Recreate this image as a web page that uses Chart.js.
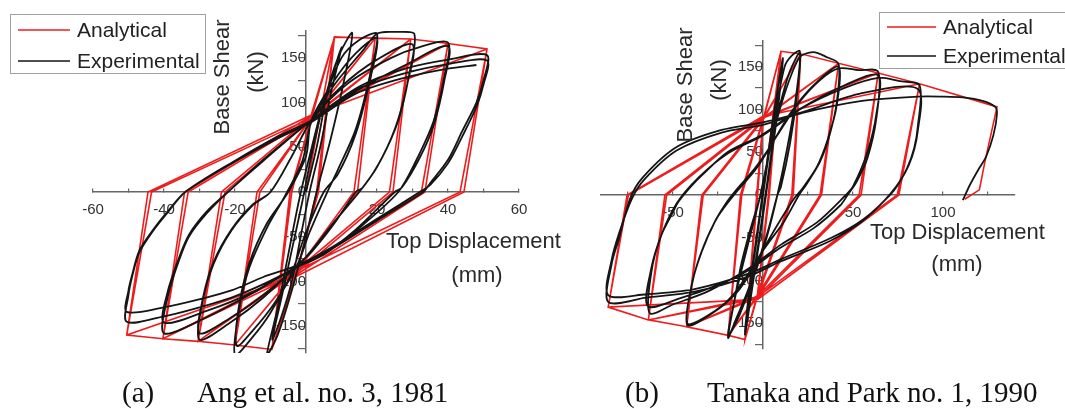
<!DOCTYPE html>
<html>
<head>
<meta charset="utf-8">
<script src="https://cdn.jsdelivr.net/npm/chart.js@4.4.0/dist/chart.umd.min.js"></script>
<style>
  html, body { margin: 0; padding: 0; background: #fff; }
  #wrap { position: relative; width: 1065px; height: 409px; overflow: hidden; }
  #wrap canvas { position: absolute; left: 0; top: 0; }
  .cap { position: absolute; top: 378px; font-family: "Liberation Serif", "Times New Roman", serif;
         font-size: 29px; line-height: 29px; color: #111; white-space: nowrap; }
</style>
</head>
<body>
<div id="wrap">
  <canvas id="chartA" width="1065" height="409"></canvas>
  <canvas id="chartB" width="1065" height="409"></canvas>
  <div class="cap" style="left:122px">(a)</div>
  <div class="cap" style="left:197px">Ang et al. no. 3, 1981</div>
  <div class="cap" style="left:625px">(b)</div>
  <div class="cap" style="left:707px">Tanaka and Park no. 1, 1990</div>
</div>
<script>
// ticks
const xTicksA = [-60, -50, -40, -30, -20, -10, 0, 10, 20, 30, 40, 50, 60];
const xLabelsA = [-60, -40, -20, 20, 40, 60];
const xTicksB = [-75, -50, -25, 0, 25, 50, 75, 100, 125];
const xLabelsB = [-50, 50, 100];
const yTicks = [-175, -150, -125, -100, -75, -50, -25, 0, 25, 50, 75, 100, 125, 150, 175];
const yLabels = [-150, -100, -50, 0, 50, 100, 150];

// (a) Ang et al. no. 3 -- displacement (mm), base shear (kN)
const analyticalA = [
  [0, 0], [8, 173],
  [3, 0], [-2, -82], [-9.6, -176], [-4, 0], [1, 78], [8, 173],
  [3.5, 0], [-2.5, -86], [-9.6, -176], [-4.5, 0], [1.5, 82], [8, 173], [19.5, 172],
  [13.5, 0], [-2, -84], [-9.6, -176], [-20, -171], [-13, 0], [1, 80], [8, 173], [19.5, 172],
  [14.5, 0], [-2.5, -88], [-20, -171], [-13.8, 0], [1.5, 83], [19.5, 172], [29.5, 171],
  [23.5, 0], [-2, -85], [-20, -171], [-30.4, -167], [-22.8, 0], [1, 80], [19.5, 172], [29.5, 171],
  [24.5, 0], [-2.5, -90], [-30.4, -167], [-23.8, 0], [1.5, 84], [29.5, 171], [40, 166],
  [32.5, 0], [-2, -86], [-30.4, -167], [-40.3, -164], [-33.2, 0], [1, 81], [29.5, 171], [40, 166],
  [33.5, 0], [-2.5, -92], [-40.3, -164], [-34.2, 0], [1.5, 85], [40, 166], [51, 160],
  [43.4, 0], [-2, -87], [-40.3, -164], [-50.5, -160], [-43.5, 0], [1, 82], [40, 166], [51, 160],
  [44.5, 0], [-2.5, -94], [-50.5, -160], [-44.5, 0], [1.5, 86], [51, 160]
];
const experimentalA = [
  [0, 0], [3, 50], [6, 110], [10, 162],
  [7, 110], [4, 50], [1, 0], [-1.5, -50], [-4, -100], [-7, -140], [-9.5, -165],
  [-7, -120], [-4, -65], [-1, -10], [1.5, 40], [5, 100], [9, 150], [13, 178],
  [11, 130], [7, 60], [3, 0], [0, -50], [-4, -110], [-8, -160], [-11, -182],
  [-8, -130], [-5, -70], [-2, -10], [1, 40], [5, 100], [10, 150], [15, 170], [20, 177],
  [18, 130], [14, 70], [9, 25], [6, 0], [1, -45], [-2.5, -82], [-9, -125], [-15, -155], [-19.5, -172],
  [-19, -130], [-16, -80], [-11, -35], [-5, 0], [0, 40], [1.5, 80], [8, 125], [14, 155], [20, 172],
  [18, 125], [14, 65], [9, 20], [5, 0], [0, -45], [-4, -90], [-10, -135], [-15, -162], [-20, -182],
  [-19, -135], [-16, -85], [-11, -40], [-6, -5], [-1, 35], [1.5, 78], [8, 120], [16, 158], [20, 177], [25, 179], [30.5, 177],
  [29, 130], [26, 80], [21, 35], [16, 5], [14, 0], [8, -35], [2, -65], [-2.5, -82], [-12, -118], [-21, -145], [-30, -165],
  [-29, -120], [-26, -80], [-21, -43], [-15, -15], [-10, 0], [-4, 40], [1.5, 80], [10, 118], [20, 148], [30, 165],
  [28.5, 120], [25, 70], [20, 28], [15, 0], [7, -38], [1, -68], [-2.5, -83], [-12, -115], [-21, -140], [-30, -158],
  [-29, -118], [-26, -78], [-21, -42], [-15, -14], [-10, 0], [-4, 40], [1.5, 80], [12, 122], [24, 150], [32, 162], [40, 167],
  [39, 130], [36, 80], [31, 35], [26, 0], [15, -40], [5, -70], [-2.5, -83], [-15, -113], [-28, -140], [-40, -158],
  [-39, -118], [-36, -79], [-33, -50], [-28, -24], [-22, 0], [-12, 35], [1.5, 80], [15, 115], [28, 142], [40, 163],
  [39, 125], [36, 75], [32, 38], [27, 5], [25, 0], [14, -42], [4, -72], [-2.5, -84], [-15, -112], [-28, -133], [-40, -146],
  [-39, -112], [-36, -76], [-33, -48], [-28, -22], [-22, 0], [-12, 36], [1.5, 80], [15, 118], [28, 138], [40, 148], [51, 153],
  [50, 125], [48, 100], [44, 68], [40, 36], [35, 10], [33, 0], [20, -32], [8, -62], [-2.5, -84], [-12, -103], [-21, -118], [-31, -130], [-40, -139], [-50.5, -145],
  [-50, -115], [-49, -95], [-47, -68], [-43, -43], [-39, -23], [-34, 0], [-20, 35], [-8, 62], [1.5, 80], [14, 114], [28, 133], [40, 143], [51, 147],
  [50, 120], [48, 95], [44, 62], [40, 32], [35, 8], [32, 0], [20, -30], [8, -60], [-2.5, -82], [-12, -95], [-21, -110], [-31, -121], [-40, -129], [-50.5, -134],
  [-50, -110], [-49, -93], [-47, -66], [-43, -42], [-39, -22], [-34, 0], [-20, 34], [-8, 60], [1.5, 78], [14, 110], [28, 128], [40, 138], [48, 142]
];

// (b) Tanaka and Park no. 1
const analyticalB = [
  [0, 0], [10, 168],
  [3, 0], [-3, -115], [-10, -169], [-3, 0], [0, 86], [10, 168],
  [3.5, 0], [-3, -118], [-10, -169], [-3.5, 0], [0, 88], [10, 168], [21, 165],
  [16, 0], [-3, -116], [-10, -169], [-19.4, -164], [-11.8, 0], [0, 87], [10, 168], [21, 165],
  [16.8, 0], [-3, -119], [-19.4, -164], [-12.5, 0], [0, 89], [21, 165], [42, 154],
  [31.7, 0], [-3, -117], [-19.4, -164], [-42.4, -154], [-33.2, 0], [0, 88], [21, 165], [42, 154],
  [32.5, 0], [-3, -120], [-42.4, -154], [-34, 0], [0, 90], [42, 154], [64, 142.5],
  [53.4, 0], [-3, -118], [-42.4, -154], [-63.7, -146], [-53.5, 0], [0, 89], [42, 154], [64, 142.5],
  [54.5, 0], [-3, -121], [-63.7, -146], [-54.5, 0], [0, 91], [64, 142.5], [87, 130],
  [74.6, 0], [-3, -119], [-63.7, -146], [-86, -131], [-74.8, 0], [0, 90], [64, 142.5], [87, 130],
  [75.5, 0], [-3, -122], [-86, -131], [-75.5, 0], [0, 92], [87, 130], [130, 103],
  [123.3, 39], [120.2, 6], [112, -5]
];
const experimentalB = [
  [0, 0], [5, 80], [11, 158],
  [8, 100], [4, 40], [0, -20], [-5, -90], [-10, -160],
  [-7, -100], [-3, -40], [1, 20], [5, 80], [11, 160],
  [8, 95], [4, 35], [0, -25], [-5, -95], [-10, -163],
  [-7, -105], [-3, -45], [1, 15], [6, 85], [12, 150], [16, 163], [20.5, 168],
  [19, 120], [15, 60], [10, 10], [8, 0], [3, -40], [-3, -80], [-9, -115], [-15, -145], [-19.4, -167],
  [-16, -125], [-12, -80], [-7, -40], [-2, -5], [1, 20], [5, 70], [10, 110], [15, 145], [20.5, 166],
  [18, 110], [13, 50], [8, 0], [2, -50], [-5, -95], [-13, -140], [-19.4, -165],
  [-15, -115], [-8, -55], [-2, -5], [3, 45], [10, 105], [20, 160], [27.8, 167], [35.6, 161], [42, 153],
  [41, 109], [37, 70], [31.7, 39], [24, 12], [20, 0], [12, -30], [0, -65], [-6, -88], [-15, -115], [-28, -138], [-42, -152],
  [-39.6, -105], [-34, -66], [-26.7, -31], [-20, -8], [-15.6, 4], [-4.4, 31.5], [5, 60], [15, 95], [28, 128], [42, 150],
  [41, 105], [36, 65], [30, 33], [22, 8], [17, -5], [8, -35], [-6, -85], [-18, -120], [-30, -140], [-42, -150],
  [-39, -100], [-33, -60], [-25, -25], [-15, 3], [-4, 30], [8, 70], [20, 108], [32, 135], [42, 148], [53, 146], [64, 144],
  [63, 90], [58, 43], [52, 15.5], [47, 0], [43, -12], [28, -39], [9.4, -62], [-8, -88], [-25, -105], [-45, -120], [-64, -130],
  [-62, -85], [-56.5, -47], [-50, -20], [-47, -8], [-40, 10], [-34, 23], [-19.4, 50.6], [-0.7, 70], [20, 100], [45, 128], [64, 140],
  [63, 95], [58, 50], [50, 10], [46, 0], [30, -32], [10, -58], [-8, -86], [-30, -112], [-50, -128], [-63, -138],
  [-62, -90], [-57, -50], [-48, -10], [-36, 20], [-20, 48], [0, 70], [22, 102], [45, 125], [64, 137], [76, 133], [87, 128],
  [86, 80], [84, 55], [80, 31], [75, 12], [70.5, 0], [55, -31], [37, -54], [9.4, -78], [-8, -95], [-38, -113], [-65, -120], [-86, -125],
  [-84, -80], [-80, -51], [-74, -5], [-67, 20], [-48, 56], [-23, 76], [0, 85], [22, 97], [55, 119], [86, 124],
  [86, 75], [81, 35], [71, 2], [56, -28], [38, -50], [10, -75], [-8, -92], [-38, -110], [-65, -116], [-86, -117],
  [-84, -75], [-80, -45], [-73, -5], [-66, 18], [-48, 52], [-23, 73], [0, 82], [22, 96], [55, 110], [86, 115],
  [100, 115], [111, 114], [122, 110], [129, 103], [130, 95], [128, 70], [124, 45], [120, 31], [115, 12], [111, -6]
];

const RED = '#ee1c1c';
const BLACK = '#151515';
const SANS = '"Liberation Sans", Arial, sans-serif';

const toXY = arr => arr.map(p => ({ x: p[0], y: p[1] }));

// legend box, axis titles
const figureText = {
  id: 'figureText',
  afterDraw(chart, args, o) {
    const ctx = chart.ctx;
    ctx.save();
    const L = o.legend;
    ctx.strokeStyle = '#a0a0a0';
    ctx.lineWidth = 1;
    ctx.strokeRect(L.x + 0.5, L.y + 0.5, L.w, L.h);
    ctx.lineWidth = 1.6;
    ctx.strokeStyle = RED;
    ctx.beginPath(); ctx.moveTo(L.lx1, L.ry); ctx.lineTo(L.lx2, L.ry); ctx.stroke();
    ctx.strokeStyle = BLACK;
    ctx.beginPath(); ctx.moveTo(L.lx1, L.by); ctx.lineTo(L.lx2, L.by); ctx.stroke();
    ctx.fillStyle = '#222';
    ctx.font = '21px ' + SANS;
    ctx.textAlign = 'left';
    ctx.textBaseline = 'middle';
    ctx.fillText('Analytical', L.tx, L.ry + 1);
    ctx.fillText('Experimental', L.tx, L.by + 1);

    ctx.font = '22px ' + SANS;
    ctx.fillStyle = '#2a2a2a';
    ctx.textAlign = 'center';
    for (const t of o.yTitle) {
      ctx.save();
      ctx.translate(t.x, t.y);
      ctx.rotate(-Math.PI / 2);
      ctx.fillText(t.text, 0, 0);
      ctx.restore();
    }
    ctx.textAlign = 'left';
    ctx.fillText('Top Displacement', o.xTitle.x, o.xTitle.y);
    ctx.textAlign = 'center';
    ctx.fillText('(mm)', o.xUnit.x, o.xUnit.y);
    ctx.restore();
  }
};

function makeChart(id, analytical, experimental, xMin, xMax, xTicks, xLabels, pad, text) {
  return new Chart(document.getElementById(id).getContext('2d'), {
    type: 'scatter',
    data: {
      datasets: [
        {
          label: 'Analytical',
          data: toXY(analytical),
          showLine: true,
          borderColor: RED,
          borderWidth: 1.6,
          pointRadius: 0,
          tension: 0,
          order: 2
        },
        {
          label: 'Experimental',
          data: toXY(experimental),
          showLine: true,
          borderColor: BLACK,
          borderWidth: 1.8,
          pointRadius: 0,
          tension: 0.3,
          order: 1
        }
      ]
    },
    options: {
      responsive: false,
      animation: false,
      layout: { padding: pad },
      scales: {
        x: {
          type: 'linear',
          min: xMin,
          max: xMax,
          position: { y: 0 },
          afterBuildTicks: s => { s.ticks = xTicks.map(v => ({ value: v })); },
          ticks: {
            autoSkip: false,
            maxRotation: 0,
            padding: 13,
            color: '#333',
            font: { family: SANS, size: 15 },
            callback: v => xLabels.includes(v) ? String(v) : ''
          },
          grid: { display: true, drawOnChartArea: false, drawTicks: true, tickLength: -4, color: '#666', lineWidth: 1.2 },
          border: { display: true, color: '#666', width: 1.5 }
        },
        y: {
          type: 'linear',
          min: -180,
          max: 180,
          position: { x: 0 },
          afterBuildTicks: s => { s.ticks = yTicks.map(v => ({ value: v })); },
          ticks: {
            autoSkip: false,
            padding: 2,
            color: '#333',
            font: { family: SANS, size: 15 },
            callback: v => yLabels.includes(v) ? String(v) : ''
          },
          grid: { display: true, drawOnChartArea: false, drawTicks: true, tickLength: 7, color: '#666', lineWidth: 1.2 },
          border: { display: true, color: '#666', width: 1.5 }
        }
      },
      plugins: {
        legend: { display: false },
        tooltip: { enabled: false },
        figureText: text
      }
    },
    plugins: [figureText]
  });
}

makeChart('chartA', analyticalA, experimentalA, -60, 60, xTicksA, xLabelsA,
  { left: 93, right: 546, top: 31, bottom: 56 },
  {
    legend: { x: 10, y: 14, w: 195, h: 59, lx1: 18, lx2: 70, ry: 30, by: 61, tx: 77 },
    yTitle: [{ text: 'Base Shear', x: 223, y: 77 }, { text: '(kN)', x: 257, y: 72 }],
    xTitle: { x: 386, y: 242 },
    xUnit: { x: 477, y: 276 }
  });

makeChart('chartB', analyticalB, experimentalB, -90, 140, xTicksB, xLabelsB,
  { left: 601, right: 50, top: 41, bottom: 60 },
  {
    legend: { x: 879, y: 12, w: 200, h: 56, lx1: 887, lx2: 936, ry: 27, by: 56, tx: 943 },
    yTitle: [{ text: 'Base Shear', x: 686, y: 85 }, { text: '(kN)', x: 720, y: 80 }],
    xTitle: { x: 870, y: 233 },
    xUnit: { x: 957, y: 265 }
  });
</script>
</body>
</html>
